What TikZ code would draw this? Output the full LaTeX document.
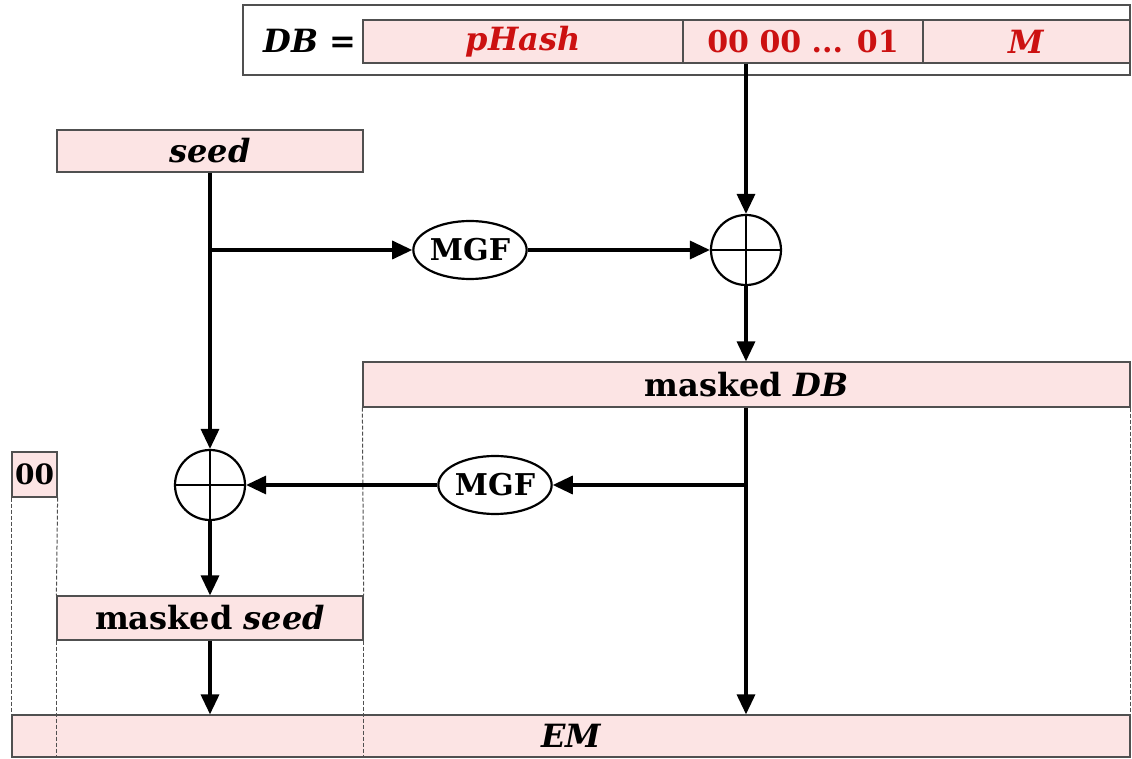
\documentclass[tikz,border=0pt]{standalone}
\usepackage{fontspec}
\setmainfont{DejaVu Serif}
\usetikzlibrary{arrows.meta,shapes.geometric}
\definecolor{cellpink}{HTML}{FCE4E4}
\definecolor{bordergray}{HTML}{505050}
\definecolor{dbred}{HTML}{CC1111}
\tikzset{
  cell/.style={draw=bordergray, line width=0.6pt, fill=cellpink, inner sep=0pt, minimum height=21.5pt, font=\fontsize{16}{18}\selectfont\bfseries},
  redtxt/.style={text=dbred},
  mgfnode/.style={draw, ellipse, line width=1.1pt, fill=white, minimum width=55pt, minimum height=29pt, inner sep=0pt, font=\fontsize{15}{17}\selectfont\bfseries},
  xornode/.style={draw, circle, line width=1.1pt, fill=white, minimum size=35pt, inner sep=0pt},
  flow/.style={line width=1.7pt, -{Triangle[length=10pt,width=9pt]}},
  sep/.style={draw=bordergray, line width=0.5pt, dash pattern=on 2pt off 1pt},
}
\begin{document}
\begin{tikzpicture}[x=0.5pt,y=-0.5pt]
\useasboundingbox (0,0) rectangle (1132,759);
% DB row
\node[draw=bordergray, line width=0.6pt, fill=white, minimum width=443.5pt, minimum height=35pt, inner sep=0pt] (outer) at (686.5,40) {};
\node[font=\fontsize{16}{18}\selectfont\bfseries] (dblabel) at (310,41) {\textit{DB} =};
\node[cell, redtxt, minimum width=160pt] (phash) at (523,41.5) {\itshape pHash};
\node[cell, redtxt, minimum width=120pt, font=\fontsize{15}{17}\selectfont\bfseries] (zeros) at (803,41.5) {00 00 ... 01};
\node[cell, redtxt, minimum width=103.5pt] (mcell) at (1026.5,41.5) {\itshape M};
% seed
\node[cell, minimum width=153pt, minimum height=21pt] (seed) at (210,151) {\itshape seed};
\node[mgfnode] (mgf1) at (470,250) {MGF};
\node[xornode] (xor1) at (746,250) {};
\draw[line width=1pt] (xor1.north) -- (xor1.south) (xor1.west) -- (xor1.east);
% masked DB
\node[cell, minimum width=383.5pt, minimum height=22.5pt] (mdb) at (746.5,384.5) {masked \textit{DB}};
\node[mgfnode] (mgf2) at (495,485) {MGF};
\node[xornode] (xor2) at (210,485) {};
\draw[line width=1pt] (xor2.north) -- (xor2.south) (xor2.west) -- (xor2.east);
% 00 column
\node[cell, minimum width=22.5pt, minimum height=22.5pt, font=\fontsize{14}{16}\selectfont\bfseries] (zz) at (34.5,474.5) {00};
% masked seed
\node[cell, minimum width=153pt, minimum height=22pt] (mseed) at (210,618) {masked \textit{seed}};
% EM
\node[cell, minimum width=559pt, minimum height=21pt] (em) at (571,736) {\itshape EM};
% dashed separators
\draw[sep] (zz.south west) -- (zz.south west |- em.north);
\draw[sep] (zz.south east) -- (mseed.north west);
\draw[sep] (mseed.south west) -- (mseed.south west |- em.south);
\draw[sep] (mdb.south west) -- (mseed.north east);
\draw[sep] (mseed.south east) -- (mseed.south east |- em.south);
\draw[sep] (mdb.south east) -- (mdb.south east |- em.north);
% flow
\coordinate (b1) at (seed.south |- mgf1);
\coordinate (b2) at (xor1 |- mgf2);
\draw[flow] (seed.south) -- (xor2.north);
\draw[flow] (b1) -- (mgf1.west);
\draw[flow] (mgf1.east) -- (xor1.west);
\draw[flow] (xor1 |- zeros.south) -- (xor1.north);
\draw[flow] (xor1.south) -- (xor1 |- mdb.north);
\draw[flow] (xor1 |- mdb.south) -- (xor1 |- em.north);
\draw[flow] (b2) -- (mgf2.east);
\draw[flow] (mgf2.west) -- (xor2.east);
\draw[flow] (xor2.south) -- (mseed.north);
\draw[flow] (mseed.south) -- (mseed.south |- em.north);
\end{tikzpicture}
\end{document}
